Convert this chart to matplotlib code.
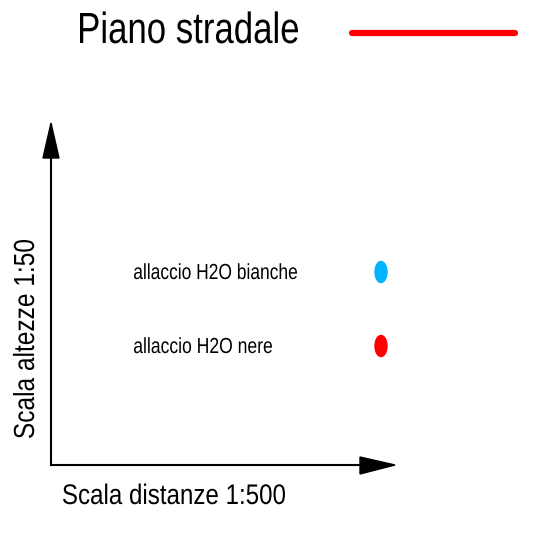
import numpy as np
import matplotlib.pyplot as plt
from matplotlib.patches import Ellipse, Polygon, PathPatch
from matplotlib.textpath import TextPath
from matplotlib.font_manager import FontProperties
from matplotlib.transforms import Affine2D

# legend contents
title_label = "Piano stradale"
y_axis_label = "Scala altezze 1:50"
x_axis_label = "Scala distanze 1:500"
point_labels = ["allaccio H2O bianche", "allaccio H2O nere"]
point_colors = ["#00b4ff", "#ff0000"]

fig = plt.figure(figsize=(5.56, 5.40), dpi=100)
ax = fig.add_axes([0, 0, 1, 1])
ax.set_xlim(0, 556)
ax.set_ylim(540, 0)
ax.axis('off')

# font stretto (tipo Arial Narrow): testo come path scalato in orizzontale
fp = FontProperties(family='Liberation Sans')
cap = TextPath((0, 0), 'H', size=100, prop=fp).get_extents().height


def draw_text(s, x0, y0, cap_h, width, vertical=False):
    tp = TextPath((0, 0), s, size=100, prop=fp)
    ext = tp.get_extents()
    k = cap_h / cap
    sx = width / (ext.x1 - ext.x0)
    if not vertical:
        m = [[sx, 0, x0 - ext.x0 * sx], [0, -k, y0], [0, 0, 1]]
    else:
        m = [[0, -k, x0], [-sx, 0, y0 + ext.x0 * sx], [0, 0, 1]]
    path = Affine2D(np.array(m, dtype=float)).transform_path(tp)
    ax.add_patch(PathPatch(path, fc='black', ec='none', lw=0))


# titolo + linea rossa
draw_text(title_label, 80, 43, 30, 218)
ax.plot([352, 515], [33, 33], color='red', lw=4.5, solid_capstyle='round')

# assi con frecce
ax.plot([51, 51], [465, 150], color='black', lw=1.5)
ax.add_patch(Polygon([[43, 158], [59, 158], [51, 123]], closed=True, color='black'))
ax.plot([51, 365], [465, 465], color='black', lw=1.5)
ax.add_patch(Polygon([[360, 457], [360, 474], [395, 465]], closed=True, color='black'))

draw_text(y_axis_label, 34, 438, 20, 198, vertical=True)
draw_text(x_axis_label, 63, 504, 19.5, 222)

# punti
baselines = [279, 353]
widths = [163, 138]
for lab, col, yb, w in zip(point_labels, point_colors, baselines, widths):
    draw_text(lab, 134, yb, 15, w)
    ax.add_patch(Ellipse((381, yb - 7), 12, 21, color=col))

fig.savefig('out.png', dpi=100)
